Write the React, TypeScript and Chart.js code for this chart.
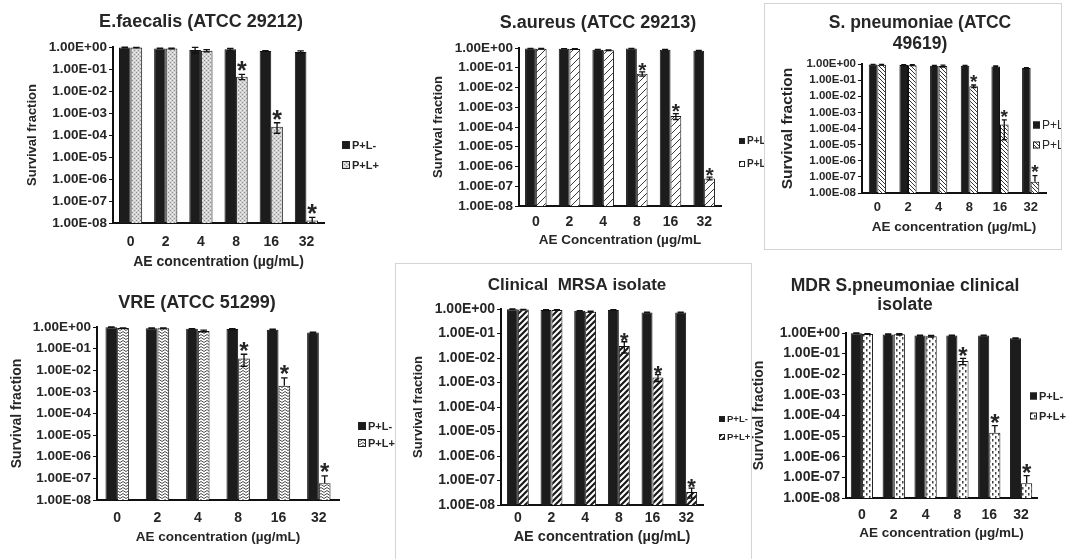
import React, { useEffect, useRef } from 'react';
import { Chart, registerables } from 'chart.js';

Chart.register(...registerables);

// ---------------- data ----------------
const concentrations = ['0', '2', '4', '8', '16', '32'];
const yTickValues = [1, 1e-1, 1e-2, 1e-3, 1e-4, 1e-5, 1e-6, 1e-7, 1e-8];
const seriesLabels = ['P+L-', 'P+L+'];
const significance = [false, false, false, true, true, true];
const yAxisTitle = 'Survival fraction';

const efaecalisDark = [0.95, 0.86, 0.74, 0.78, 0.66, 0.6];
const efaecalisDarkErr = [0.03, 0.02, 0.22, 0.08, 0.03, 0.06];
const efaecalisLight = [0.94, 0.86, 0.68, 0.045, 2.4e-4, 1.3e-8];
const efaecalisLightErr = [0.03, 0.03, 0.08, 0.012, 1.2e-4, 0.5e-8];

const saureusDark = [0.93, 0.92, 0.82, 0.93, 0.82, 0.72];
const saureusDarkErr = [0.03, 0.02, 0.02, 0.02, 0.03, 0.03];
const saureusLight = [0.92, 0.9, 0.76, 0.05, 3.6e-4, 2.5e-7];
const saureusLightErr = [0.03, 0.04, 0.03, 0.012, 1.2e-4, 0.4e-7];

const pneumoniaeDark = [0.93, 0.86, 0.77, 0.78, 0.7, 0.56];
const pneumoniaeDarkErr = [0.03, 0.05, 0.05, 0.04, 0.05, 0.03];
const pneumoniaeLight = [0.9, 0.85, 0.75, 0.042, 1.8e-4, 5e-8];
const pneumoniaeLightErr = [0.03, 0.05, 0.1, 0.008, 1.6e-4, 7e-8];

const vreDark = [0.98, 0.88, 0.82, 0.8, 0.75, 0.55];
const vreDarkErr = [0.02, 0.03, 0.03, 0.05, 0.04, 0.03];
const vreLight = [0.9, 0.88, 0.65, 0.035, 1.9e-3, 6e-8];
const vreLightErr = [0.02, 0.04, 0.06, 0.02, 2.5e-3, 7e-8];

const mrsaDark = [0.98, 0.9, 0.84, 0.92, 0.72, 0.72];
const mrsaDarkErr = [0.02, 0.03, 0.02, 0.02, 0.03, 0.03];
const mrsaLight = [0.95, 0.92, 0.78, 0.031, 1.6e-3, 3.4e-8];
const mrsaLightErr = [0.02, 0.03, 0.03, 0.015, 0.5e-3, 1.5e-8];

const mdrDark = [0.98, 0.85, 0.75, 0.75, 0.76, 0.55];
const mdrDarkErr = [0.02, 0.05, 0.04, 0.04, 0.03, 0.03];
const mdrLight = [0.9, 0.86, 0.7, 0.044, 1.45e-5, 5.2e-8];
const mdrLightErr = [0.03, 0.06, 0.06, 0.015, 1.8e-5, 7e-8];

// ---------------- styling / layout ----------------
const FONT = "'Liberation Sans', Arial, Helvetica, sans-serif";
const INK = '#262626';

type Rect = { x: number; y: number; w: number; h: number };
type Area = { l: number; t: number; r: number; b: number };
type Spec = {
  key: string;
  titleLines: string[];
  titleX: number;
  titleY: number[];
  titleSize: number;
  xTitle: string;
  xTitleY: number;
  xTitleSize: number;
  xLabelY: number;
  xLabelSize: number;
  yTitleX: number;
  yTitleSize: number;
  tickSize: number;
  canvas: Rect;
  area: Area;
  dark: number[];
  darkErr: number[];
  light: number[];
  lightErr: number[];
  pattern: string;
  catPct: number;
  legend: { x: number; y: number[]; box: number; size: number; weight: string };
  starSize: number;
  starGap: number;
  boxed: boolean;
};

const panels: Spec[] = [
  {
    key: 'efaecalis',
    titleLines: ['E.faecalis (ATCC 29212)'],
    titleX: 201, titleY: [22], titleSize: 18,
    xTitle: 'AE concentration (µg/mL)', xTitleY: 262, xTitleSize: 14,
    xLabelY: 242, xLabelSize: 14,
    yTitleX: 32, yTitleSize: 13, tickSize: 13.5,
    canvas: { x: 0, y: 0, w: 392, h: 278 },
    area: { l: 113, t: 47, r: 324, b: 223 },
    dark: efaecalisDark, darkErr: efaecalisDarkErr, light: efaecalisLight, lightErr: efaecalisLightErr,
    pattern: 'stipple', catPct: 0.66,
    legend: { x: 342, y: [145, 165], box: 8, size: 11, weight: 'bold' },
    starSize: 25, starGap: 9, boxed: false,
  },
  {
    key: 'saureus',
    titleLines: ['S.aureus (ATCC 29213)'],
    titleX: 598, titleY: [23], titleSize: 18,
    xTitle: 'AE Concentration (µg/mL', xTitleY: 240, xTitleSize: 13.5,
    xLabelY: 222, xLabelSize: 14,
    yTitleX: 438, yTitleSize: 13, tickSize: 13.5,
    canvas: { x: 392, y: 0, w: 372, h: 258 },
    area: { l: 519, t: 48, r: 721, b: 206 },
    dark: saureusDark, darkErr: saureusDarkErr, light: saureusLight, lightErr: saureusLightErr,
    pattern: 'hatch', catPct: 0.64,
    legend: { x: 739, y: [141, 164], box: 6, size: 10, weight: 'bold' },
    starSize: 21, starGap: 7, boxed: false,
  },
  {
    key: 'vre',
    titleLines: ['VRE (ATCC 51299)'],
    titleX: 197, titleY: [303], titleSize: 18,
    xTitle: 'AE concentration (µg/mL)', xTitleY: 537, xTitleSize: 13.5,
    xLabelY: 518, xLabelSize: 14,
    yTitleX: 17, yTitleSize: 14, tickSize: 13.5,
    canvas: { x: 0, y: 280, w: 395, h: 279 },
    area: { l: 97, t: 327, r: 339, b: 500 },
    dark: vreDark, darkErr: vreDarkErr, light: vreLight, lightErr: vreLightErr,
    pattern: 'zigzag', catPct: 0.58,
    legend: { x: 358, y: [426, 443], box: 8, size: 11, weight: 'bold' },
    starSize: 24, starGap: 9, boxed: false,
  },
  {
    key: 'mdr',
    titleLines: ['MDR S.pneumoniae clinical', 'isolate'],
    titleX: 905, titleY: [286, 305], titleSize: 17.5,
    xTitle: 'AE concentration (µg/mL)', xTitleY: 533, xTitleSize: 13.5,
    xLabelY: 515, xLabelSize: 14,
    yTitleX: 759, yTitleSize: 14, tickSize: 14,
    canvas: { x: 748, y: 262, w: 325, h: 297 },
    area: { l: 846, t: 333, r: 1037, b: 498 },
    dark: mdrDark, darkErr: mdrDarkErr, light: mdrLight, lightErr: mdrLightErr,
    pattern: 'dots', catPct: 0.7,
    legend: { x: 1030, y: [396, 416], box: 7, size: 11, weight: 'bold' },
    starSize: 24, starGap: 8, boxed: false,
  },
  {
    key: 'pneumoniae',
    titleLines: ['S. pneumoniae (ATCC', '49619)'],
    titleX: 920, titleY: [23, 44], titleSize: 17.5,
    xTitle: 'AE concentration (µg/mL)', xTitleY: 227, xTitleSize: 13.5,
    xLabelY: 207, xLabelSize: 13,
    yTitleX: 788, yTitleSize: 15.5, tickSize: 11.5,
    canvas: { x: 764, y: 3, w: 298, h: 247 },
    area: { l: 862, t: 64, r: 1046, b: 193 },
    dark: pneumoniaeDark, darkErr: pneumoniaeDarkErr, light: pneumoniaeLight, lightErr: pneumoniaeLightErr,
    pattern: 'denseBack', catPct: 0.56,
    legend: { x: 1033, y: [125, 145], box: 7, size: 12, weight: 'normal' },
    starSize: 19, starGap: 8, boxed: true,
  },
  {
    key: 'mrsa',
    titleLines: ['Clinical  MRSA isolate'],
    titleX: 577, titleY: [285], titleSize: 17,
    xTitle: 'AE concentration (µg/mL)', xTitleY: 537, xTitleSize: 14.5,
    xLabelY: 518, xLabelSize: 14,
    yTitleX: 418, yTitleSize: 13, tickSize: 14,
    canvas: { x: 395, y: 263, w: 357, h: 300 },
    area: { l: 501, t: 309, r: 703, b: 505 },
    dark: mrsaDark, darkErr: mrsaDarkErr, light: mrsaLight, lightErr: mrsaLightErr,
    pattern: 'thick', catPct: 0.65,
    legend: { x: 719, y: [419, 437], box: 6, size: 9.5, weight: 'bold' },
    starSize: 22, starGap: 6, boxed: true,
  },
];

function sciLabel(v: number): string {
  const e = Math.round(Math.log10(v));
  const m = v / Math.pow(10, e);
  return m.toFixed(2) + 'E' + (e < 0 ? '-' : '+') + String(Math.abs(e)).padStart(2, '0');
}

function makePattern(kind: string): CanvasPattern {
  const c = document.createElement('canvas');
  const x = c.getContext('2d') as CanvasRenderingContext2D;
  const set = (w: number, h: number, bg = '#ffffff') => {
    c.width = w;
    c.height = h;
    x.fillStyle = bg;
    x.fillRect(0, 0, w, h);
  };
  const diag = (s: number, forward: boolean) => {
    x.beginPath();
    for (let k = -1; k <= 1; k++) {
      if (forward) {
        x.moveTo(k * s - 1, s + 1);
        x.lineTo(k * s + s + 1, -1);
      } else {
        x.moveTo(k * s - 1, -1);
        x.lineTo(k * s + s + 1, s + 1);
      }
    }
    x.stroke();
  };
  switch (kind) {
    case 'stipple':
      set(4, 4, '#d2d2d2');
      x.fillStyle = '#8e8e8e';
      x.fillRect(0, 0, 1, 1);
      x.fillRect(2, 2, 1, 1);
      x.fillStyle = '#f2f2f2';
      x.fillRect(2, 0, 1, 1);
      x.fillRect(0, 2, 1, 1);
      break;
    case 'hatch':
      set(7, 7);
      x.strokeStyle = '#3a3a3a';
      x.lineWidth = 1;
      diag(7, true);
      break;
    case 'denseBack':
      set(4, 4);
      x.strokeStyle = '#333333';
      x.lineWidth = 1;
      diag(4, false);
      break;
    case 'zigzag':
      set(6, 3);
      x.strokeStyle = '#4a4a4a';
      x.lineWidth = 1;
      x.beginPath();
      x.moveTo(0, 2.5);
      x.lineTo(3, 0.5);
      x.lineTo(6, 2.5);
      x.stroke();
      break;
    case 'thick':
      set(6, 6);
      x.strokeStyle = '#1a1a1a';
      x.lineWidth = 2.2;
      diag(6, true);
      break;
    default:
      set(6, 6);
      x.fillStyle = '#404040';
      x.fillRect(1, 0, 1.5, 2.5);
      x.fillRect(4, 3, 1.5, 2.5);
      break;
  }
  return x.createPattern(c, 'repeat') as CanvasPattern;
}

function decoPlugin(spec: Spec, pattern: CanvasPattern) {
  const cv = spec.canvas;
  return {
    id: 'deco-' + spec.key,
    afterDatasetsDraw(chart: any) {
      const ctx: CanvasRenderingContext2D = chart.ctx;
      const yScale = chart.scales.y;
      const bottom = chart.chartArea.bottom;
      const errs = [spec.darkErr, spec.lightErr];
      ctx.save();
      ctx.strokeStyle = '#111';
      ctx.lineWidth = 1.3;
      errs.forEach((errList, di) => {
        const meta = chart.getDatasetMeta(di);
        const values = chart.data.datasets[di].data as number[];
        meta.data.forEach((bar: any, i: number) => {
          const v = values[i];
          const e = errList[i];
          const cap = Math.max(2.5, bar.width * 0.28);
          const top = yScale.getPixelForValue(v + e);
          const low = v - e > 0 ? Math.min(yScale.getPixelForValue(v - e), bottom) : bar.y;
          ctx.beginPath();
          ctx.moveTo(bar.x, top);
          ctx.lineTo(bar.x, low);
          ctx.moveTo(bar.x - cap, top);
          ctx.lineTo(bar.x + cap, top);
          if (v - e > 0) {
            ctx.moveTo(bar.x - cap, low);
            ctx.lineTo(bar.x + cap, low);
          }
          ctx.stroke();
          if (di === 1 && significance[i]) {
            const centre = top - spec.starGap;
            ctx.fillStyle = INK;
            ctx.font = `bold ${spec.starSize}px ${FONT}`;
            ctx.textAlign = 'center';
            ctx.textBaseline = 'alphabetic';
            ctx.fillText('*', bar.x, centre + spec.starSize * 0.56);
          }
        });
      });
      ctx.restore();
    },
    afterDraw(chart: any) {
      const ctx: CanvasRenderingContext2D = chart.ctx;
      ctx.save();
      // chart title
      ctx.fillStyle = INK;
      ctx.font = `bold ${spec.titleSize}px ${FONT}`;
      ctx.textAlign = 'center';
      ctx.textBaseline = 'middle';
      spec.titleLines.forEach((line, k) => {
        ctx.fillText(line, spec.titleX - cv.x, spec.titleY[k] - cv.y);
      });
      // legend
      const lg = spec.legend;
      ctx.font = `${lg.weight} ${lg.size}px ${FONT}`;
      ctx.textAlign = 'left';
      seriesLabels.forEach((label, k) => {
        const bx = lg.x - cv.x;
        const by = lg.y[k] - cv.y - lg.box / 2;
        ctx.fillStyle = k === 0 ? '#1c1c1c' : pattern;
        ctx.fillRect(bx, by, lg.box, lg.box);
        ctx.strokeStyle = '#222';
        ctx.lineWidth = 1;
        ctx.strokeRect(bx + 0.5, by + 0.5, lg.box - 1, lg.box - 1);
        ctx.fillStyle = INK;
        ctx.fillText(label, bx + lg.box + 2, lg.y[k] - cv.y + 0.5);
      });
      ctx.restore();
    },
  };
}

function buildConfig(spec: Spec, pattern: CanvasPattern): any {
  const { canvas: cv, area } = spec;
  const xLabelPad = spec.xLabelY - area.b - spec.xLabelSize * 0.6;
  const xTitlePad = cv.y + cv.h - spec.xTitleY - spec.xTitleSize * 0.6;
  const yTitlePad = spec.yTitleX - cv.x - spec.yTitleSize * 0.6;
  return {
    type: 'bar',
    data: {
      labels: concentrations,
      datasets: [
        {
          label: seriesLabels[0],
          data: spec.dark,
          backgroundColor: '#1c1c1c',
          borderColor: '#111111',
          borderWidth: 1,
          categoryPercentage: spec.catPct,
          barPercentage: 1,
        },
        {
          label: seriesLabels[1],
          data: spec.light,
          backgroundColor: pattern,
          borderColor: '#111111',
          borderWidth: 1,
          categoryPercentage: spec.catPct,
          barPercentage: 1,
        },
      ],
    },
    options: {
      responsive: false,
      maintainAspectRatio: false,
      animation: false,
      devicePixelRatio: 1,
      layout: {
        padding: { left: 0, bottom: 0, top: area.t - cv.y, right: cv.x + cv.w - area.r },
      },
      plugins: {
        legend: { display: false },
        title: { display: false },
        tooltip: { enabled: false },
      },
      scales: {
        x: {
          type: 'category',
          offset: true,
          grid: { display: false, drawTicks: false },
          border: { display: true, color: '#111111', width: 2 },
          ticks: {
            color: INK,
            font: { family: FONT, size: spec.xLabelSize, weight: 'bold' },
            padding: xLabelPad,
            maxRotation: 0,
            autoSkip: false,
          },
          title: {
            display: true,
            text: spec.xTitle,
            color: INK,
            font: { family: FONT, size: spec.xTitleSize, weight: 'bold' },
            padding: { top: 0, bottom: xTitlePad },
          },
          afterFit: (s: any) => {
            s.height = cv.y + cv.h - area.b;
          },
        },
        y: {
          type: 'logarithmic',
          min: 1e-8,
          max: 1,
          afterBuildTicks: (s: any) => {
            s.ticks = yTickValues.map((v) => ({ value: v }));
          },
          grid: {
            display: true,
            drawOnChartArea: false,
            drawTicks: true,
            tickLength: 4,
            color: '#111111',
            lineWidth: 1,
          },
          border: { display: true, color: '#111111', width: 2 },
          ticks: {
            color: INK,
            font: { family: FONT, size: spec.tickSize, weight: 'bold' },
            padding: 2,
            autoSkip: false,
            callback: (v: any) => sciLabel(Number(v)),
          },
          title: {
            display: true,
            text: yAxisTitle,
            color: INK,
            font: { family: FONT, size: spec.yTitleSize, weight: 'bold' },
            padding: { top: Math.max(0, yTitlePad), bottom: 0 },
          },
          afterFit: (s: any) => {
            s.width = area.l - cv.x;
          },
        },
      },
    },
    plugins: [decoPlugin(spec, pattern)],
  };
}

function Panel({ spec }: { spec: Spec }) {
  const ref = useRef<HTMLCanvasElement>(null);
  useEffect(() => {
    const canvas = ref.current;
    if (!canvas) return;
    const pattern = makePattern(spec.pattern);
    const chart = new Chart(canvas, buildConfig(spec, pattern));
    return () => chart.destroy();
  }, [spec]);
  const cv = spec.canvas;
  return (
    <div
      style={{
        position: 'absolute',
        left: cv.x,
        top: cv.y,
        width: cv.w,
        height: cv.h,
        background: '#ffffff',
        overflow: 'hidden',
      }}
    >
      <canvas ref={ref} width={cv.w} height={cv.h} style={{ display: 'block', width: cv.w, height: cv.h }} />
      {spec.boxed && (
        <div
          style={{
            position: 'absolute',
            left: 0,
            top: 0,
            right: 0,
            bottom: 0,
            border: '1px solid #d4d4d4',
            pointerEvents: 'none',
          }}
        />
      )}
    </div>
  );
}

export default function App() {
  return (
    <div
      style={{
        position: 'fixed',
        left: 0,
        top: 0,
        width: 1073,
        height: 559,
        background: '#ffffff',
        overflow: 'hidden',
      }}
    >
      {panels.map((p) => (
        <Panel key={p.key} spec={p} />
      ))}
    </div>
  );
}
